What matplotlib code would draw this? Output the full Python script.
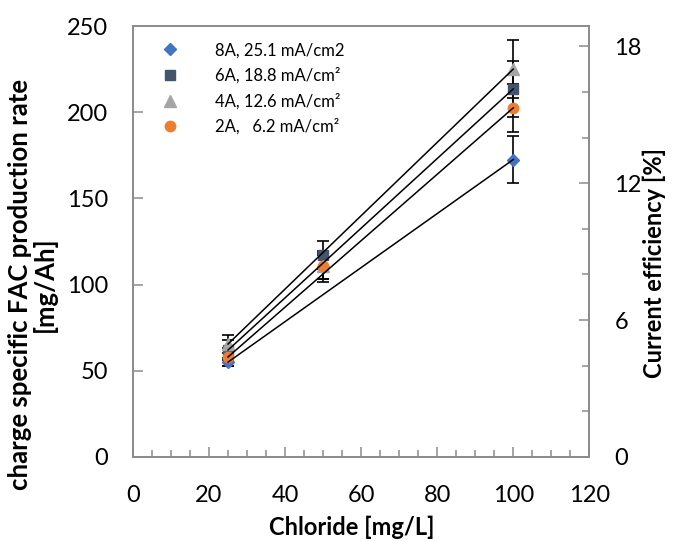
import matplotlib
matplotlib.use('Agg')
import matplotlib.pyplot as plt
from matplotlib.ticker import MultipleLocator

plt.rcParams['font.family'] = ['Lato', 'DejaVu Sans']

# chloride concentration [mg/L]
chloride = [25, 50, 100]

labels = ['8A, 25.1 mA/cm2', '6A, 18.8 mA/cm\u00b2', '4A, 12.6 mA/cm\u00b2', '2A,   6.2 mA/cm\u00b2']
rate_8a = [55, 110, 172.5]
rate_6a = [62, 117, 213.5]
rate_4a = [65.5, 110.5, 225]
rate_2a = [58, 111, 202.5]
err_8a = [2.5, 7, 13.5]
err_6a = [6, 8, 16]
err_4a = [5.5, 9, 17]
err_2a = [5, 7.5, 14]

markers = ['D', 's', '^', 'o']
colors = ['#4472C4', '#44546A', '#A5A5A5', '#ED7D31']
sizes = [6, 7, 8, 7.5]

# mg/Ah per % current efficiency (Cl2: 1323 mg/Ah at 100 %)
ce_factor = 13.23

fig = plt.figure(figsize=(6.75, 5.42), dpi=100)
ax = fig.add_axes([0.197, 0.157, 0.676, 0.795])

series = [(rate_8a, err_8a), (rate_6a, err_6a), (rate_4a, err_4a), (rate_2a, err_2a)]
for (vals, errs), m, c, s, lab in zip(series, markers, colors, sizes, labels):
    ax.errorbar(chloride, vals, yerr=errs, fmt='none', ecolor='black',
                elinewidth=1.2, capsize=4.5, capthick=1.2, zorder=2)
    ax.plot(chloride, vals, linestyle='none', marker=m, color=c, ms=s,
            label=lab, zorder=3)
for vals, _ in series:
    ax.plot([chloride[0], chloride[-1]], [vals[0], vals[-1]], color='black',
            lw=1.1, zorder=4)

ax.set_xlim(0, 120)
ax.set_ylim(0, 250)
ax.xaxis.set_major_locator(MultipleLocator(20))
ax.xaxis.set_minor_locator(MultipleLocator(5))
ax.yaxis.set_major_locator(MultipleLocator(50))

ax2 = ax.twinx()
ax2.set_ylim(0, 250 / ce_factor)
ax2.yaxis.set_major_locator(MultipleLocator(6))
ax2.yaxis.set_minor_locator(MultipleLocator(2))

spine_col = '#8c8c8c'
for a in (ax, ax2):
    for sp in a.spines.values():
        sp.set_color(spine_col)
        sp.set_linewidth(1.3)
    a.tick_params(which='both', direction='in', color=spine_col, width=1.1,
                  labelsize=17, pad=18)
    a.tick_params(which='major', length=7)
    a.tick_params(which='minor', length=5)
ax.tick_params(axis='x', pad=20)

ax.set_xlabel('Chloride [mg/L]', fontsize=17, fontweight='bold', va='center')
ax.xaxis.set_label_coords(0.48, -0.163)
ax.set_ylabel('charge specific FAC production rate\n[mg/Ah]', fontsize=18.5,
              fontweight='bold', linespacing=1.0, va='center')
ax.yaxis.set_label_coords(-0.22, 0.40)
ax2.set_ylabel('Current efficiency [%]', fontsize=17, fontweight='bold',
               va='center')
ax2.yaxis.set_label_coords(1.143, 0.45)

ax.legend(loc='upper left', bbox_to_anchor=(0.012, 0.997), frameon=False,
          fontsize=12, handletextpad=1.7, labelspacing=0.55, markerscale=1.0)

fig.savefig('out.png', dpi=100)
